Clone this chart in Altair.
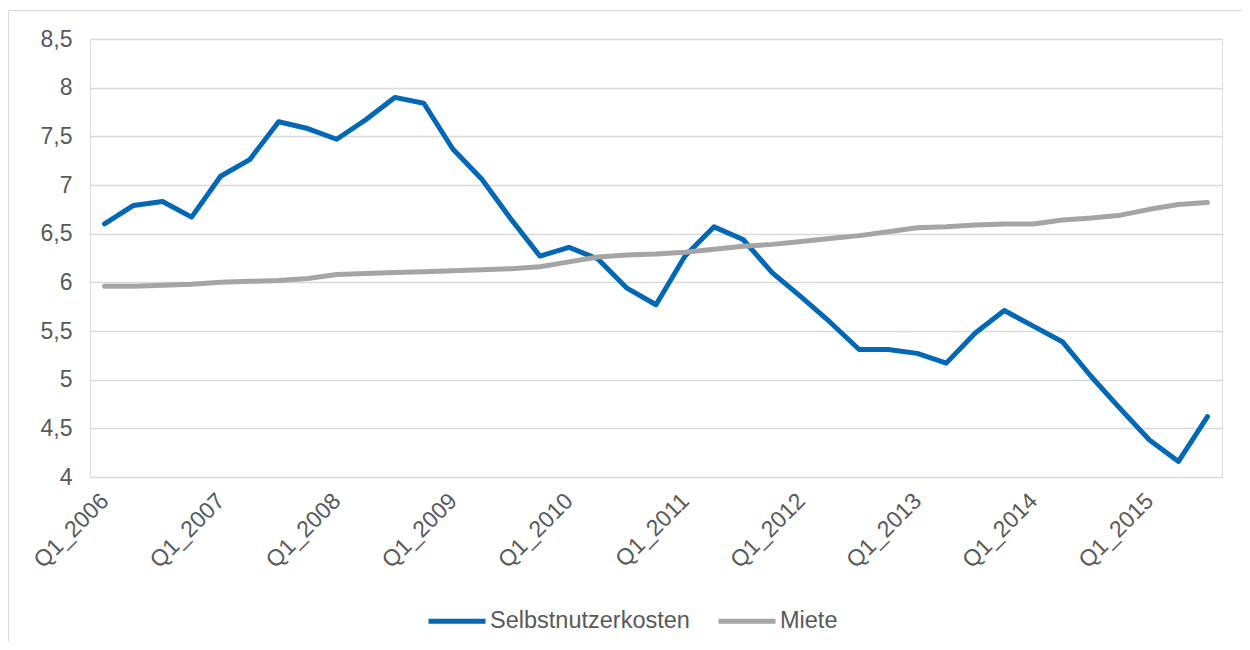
import altair as alt
import pandas as pd

quarters = [
    "Q1_2006", "Q2_2006", "Q3_2006", "Q4_2006",
    "Q1_2007", "Q2_2007", "Q3_2007", "Q4_2007",
    "Q1_2008", "Q2_2008", "Q3_2008", "Q4_2008",
    "Q1_2009", "Q2_2009", "Q3_2009", "Q4_2009",
    "Q1_2010", "Q2_2010", "Q3_2010", "Q4_2010",
    "Q1_2011", "Q2_2011", "Q3_2011", "Q4_2011",
    "Q1_2012", "Q2_2012", "Q3_2012", "Q4_2012",
    "Q1_2013", "Q2_2013", "Q3_2013", "Q4_2013",
    "Q1_2014", "Q2_2014", "Q3_2014", "Q4_2014",
    "Q1_2015", "Q2_2015", "Q3_2015",
]
tick_labels = ["Q1_2006", "Q1_2007", "Q1_2008", "Q1_2009", "Q1_2010",
               "Q1_2011", "Q1_2012", "Q1_2013", "Q1_2014", "Q1_2015"]

selbstnutzerkosten = [6.60, 6.79, 6.83, 6.67, 7.09, 7.26, 7.65, 7.58, 7.47, 7.67,
                      7.90, 7.84, 7.37, 7.06, 6.65, 6.27, 6.36, 6.24, 5.94, 5.77,
                      6.27, 6.57, 6.44, 6.10, 5.85, 5.59, 5.31, 5.31, 5.27, 5.17,
                      5.48, 5.71, 5.55, 5.39, 5.03, 4.70, 4.38, 4.16, 4.62]
miete = [5.96, 5.96, 5.97, 5.98, 6.00, 6.01, 6.02, 6.04, 6.08, 6.09,
         6.10, 6.11, 6.12, 6.13, 6.14, 6.16, 6.21, 6.26, 6.28, 6.29,
         6.31, 6.34, 6.37, 6.39, 6.42, 6.45, 6.48, 6.52, 6.56, 6.57,
         6.59, 6.60, 6.60, 6.64, 6.66, 6.69, 6.75, 6.80, 6.82]
y_ticks = [4, 4.5, 5, 5.5, 6, 6.5, 7, 7.5, 8, 8.5]

series_names = ["Selbstnutzerkosten", "Miete"]
series_colors = ["#0068B4", "#A5A5A5"]

df_s = pd.DataFrame({"Quartal": quarters, "Wert": selbstnutzerkosten, "Reihe": series_names[0]})
df_m = pd.DataFrame({"Quartal": quarters, "Wert": miete, "Reihe": series_names[1]})

FONT = "Liberation Sans"
TXT = "#595959"

x_enc = alt.X("Quartal:N", sort=quarters,
              scale=alt.Scale(padding=0.5),
              axis=alt.Axis(values=tick_labels, title=None, labelAngle=-45,
                            labelAlign="right", labelBaseline="middle",
                            labelPadding=20, ticks=False, domain=False,
                            labelFont=FONT, labelFontSize=23, labelColor=TXT,
                            grid=False, labelOverlap=False))
y_enc = alt.Y("Wert:Q", scale=alt.Scale(domain=[4, 8.5], nice=False, zero=False),
              axis=alt.Axis(values=y_ticks, title=None, ticks=False, domain=False,
                            labelExpr="replace(toString(datum.value), '.', ',')",
                            labelFont=FONT, labelFontSize=23, labelColor=TXT,
                            labelPadding=18, gridColor="#D9D9D9", gridWidth=1.3))
color_enc = alt.Color("Reihe:N",
                      scale=alt.Scale(domain=series_names, range=series_colors),
                      legend=alt.Legend(title=None, orient="none", direction="horizontal",
                                        legendX=336, legendY=551,
                                        symbolType="stroke", symbolSize=3249,
                                        symbolStrokeWidth=5, labelOffset=2,
                                        columnPadding=18, labelFont=FONT,
                                        labelFontSize=23.5, labelColor=TXT,
                                        labelLimit=400))

line_s = alt.Chart(df_s).mark_line(strokeWidth=5, strokeCap="round", strokeJoin="round").encode(
    x=x_enc, y=y_enc, color=color_enc)
line_m = alt.Chart(df_m).mark_line(strokeWidth=5, strokeCap="round", strokeJoin="round").encode(
    x=x_enc, y=y_enc, color=color_enc)

border = alt.Chart(pd.DataFrame({"k": [0]})).mark_rect(
    fillOpacity=0, stroke="#D9D9D9", strokeWidth=1).encode(
    x=alt.value(-81.5), x2=alt.value(1300), y=alt.value(-28.5), y2=alt.value(800))

chart = alt.layer(border, line_s, line_m).properties(
    width=1132, height=438,
    autosize=alt.AutoSizeParams(type="none"),
    padding={"left": 82, "top": 31, "right": 20, "bottom": 165},
).configure_view(strokeWidth=0).configure(background="white")

chart.save("out.html", embed_options={"renderer": "svg", "actions": False})
